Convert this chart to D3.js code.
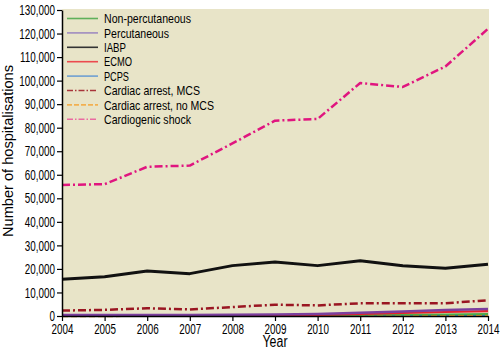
<!DOCTYPE html>
<html><head><meta charset="utf-8">
<script src="https://cdn.jsdelivr.net/npm/d3@7"></script>
<style>
body{margin:0;background:#fff;}
text{font-family:"Liberation Sans",Arial,sans-serif;}
</style></head><body>
<svg id="c" width="502" height="354"></svg>
<script>
const years = [2004,2005,2006,2007,2008,2009,2010,2011,2012,2013,2014];
const yTicks = [0,10000,20000,30000,40000,50000,60000,70000,80000,90000,100000,110000,120000,130000];
const seriesNames = ["Non-percutaneous","Percutaneous","IABP","ECMO","PCPS","Cardiac arrest, MCS","Cardiac arrest, no MCS","Cardiogenic shock"];
const nonPercutaneous = [100,100,110,120,150,200,300,450,600,700,850];
const percutaneous = [400,400,450,450,500,600,900,1400,1900,2500,3000];
const iabp = [15600,16700,19100,18000,21400,22900,21400,23500,21300,20300,22000];
const ecmo = [100,100,120,150,200,300,500,900,1300,1700,2100];
const pcps = [50,50,60,80,100,150,200,250,300,350,400];
const arrestMCS = [2300,2600,3300,2800,3800,4800,4500,5400,5400,5400,6700];
const arrestNoMCS = [50,50,60,80,100,120,150,180,200,250,300];
const cardiogenicShock = [55700,56000,63400,63900,73300,83000,83700,99000,97300,106000,122000];

const data = [nonPercutaneous,percutaneous,iabp,ecmo,pcps,arrestMCS,arrestNoMCS,cardiogenicShock];
const colors = ["#4fa84a","#7b3f9e","#111111","#e8202a","#3e8fcf","#9a1622","#f0a030","#e0157f"];
const legendColors = ["#5fb05a","#a08cc0","#333333","#ec4a4e","#6f9fd2","#a8343a","#f2b050","#ea6aa0"];
const widths = [1.8,2.5,3,2.2,1.8,2.5,2.5,2.5];
const dashes = [null,null,null,null,null,"8,3,2,3","6,3","8,3,2,3"];
const drawOrder = [2,5,7,4,6,0,3,1];
const legendWidths = [87,65,22,28,25,96,110,87];

function squeeze(sel, f){
  sel.each(function(){
    const w = this.getComputedTextLength();
    d3.select(this).attr("textLength", w*f).attr("lengthAdjust","spacingAndGlyphs");
  });
}

const svg = d3.select("#c");
const x = d3.scaleLinear().domain([2004,2014]).range([62,488]);
const y = d3.scaleLinear().domain([0,130000]).range([316,10]);

svg.append("rect").attr("x",62).attr("y",9).attr("width",427).attr("height",307).attr("fill","#e8e4c8");

const line = d3.line().x((d,i)=>x(years[i])).y(d=>y(d));
drawOrder.forEach(k=>{
  svg.append("path").datum(data[k]).attr("d",line).attr("fill","none")
    .attr("stroke",colors[k]).attr("stroke-width",widths[k])
    .attr("stroke-dasharray",dashes[k]).attr("stroke-linejoin","round");
});

const yAxis = d3.axisLeft(y).tickValues(yTicks).tickFormat(d3.format(",")).tickSize(5).tickPadding(2).tickSizeOuter(0);
const gy = svg.append("g").attr("transform","translate(62,0)").call(yAxis);
gy.select(".domain").attr("stroke","#000").attr("stroke-width",1.5);
gy.selectAll(".tick line").attr("stroke-width",1.2);
gy.selectAll("text").attr("font-size",14.5).attr("fill","#000").attr("font-family",null);
squeeze(gy.selectAll("text"),0.68);

const xAxis = d3.axisBottom(x).tickValues(years).tickFormat(d3.format("d")).tickSize(5).tickPadding(3).tickSizeOuter(0);
const gx = svg.append("g").attr("transform","translate(0,316)").call(xAxis);
gx.select(".domain").attr("stroke","#000").attr("stroke-width",1.5);
gx.selectAll(".tick line").attr("stroke-width",1.2);
gx.selectAll("text").attr("font-size",14.5).attr("fill","#000").attr("font-family",null).attr("dy","0.7em");
squeeze(gx.selectAll("text"),0.68);

svg.append("text").attr("x",275).attr("y",347).attr("text-anchor","middle").attr("font-size",16)
  .attr("textLength",25).attr("lengthAdjust","spacingAndGlyphs").text("Year");
svg.append("text").attr("transform","translate(13,151) rotate(-90)").attr("text-anchor","middle").attr("font-size",15)
  .attr("textLength",172).attr("lengthAdjust","spacingAndGlyphs").text("Number of hospitalisations");

const lg = svg.append("g");
seriesNames.forEach((n,i)=>{
  const yy = 18.5 + i*14.4;
  lg.append("line").attr("x1",67).attr("x2",98).attr("y1",yy).attr("y2",yy)
    .attr("stroke",legendColors[i]).attr("stroke-width",1.6).attr("stroke-dasharray",dashes[i]?(i===6?"5,2":"6,2,1.5,2"):null);
  lg.append("text").attr("x",104).attr("y",yy+4.7).attr("font-size",13.2)
    .attr("textLength",legendWidths[i]).attr("lengthAdjust","spacingAndGlyphs").text(n);
});
</script></body></html>
